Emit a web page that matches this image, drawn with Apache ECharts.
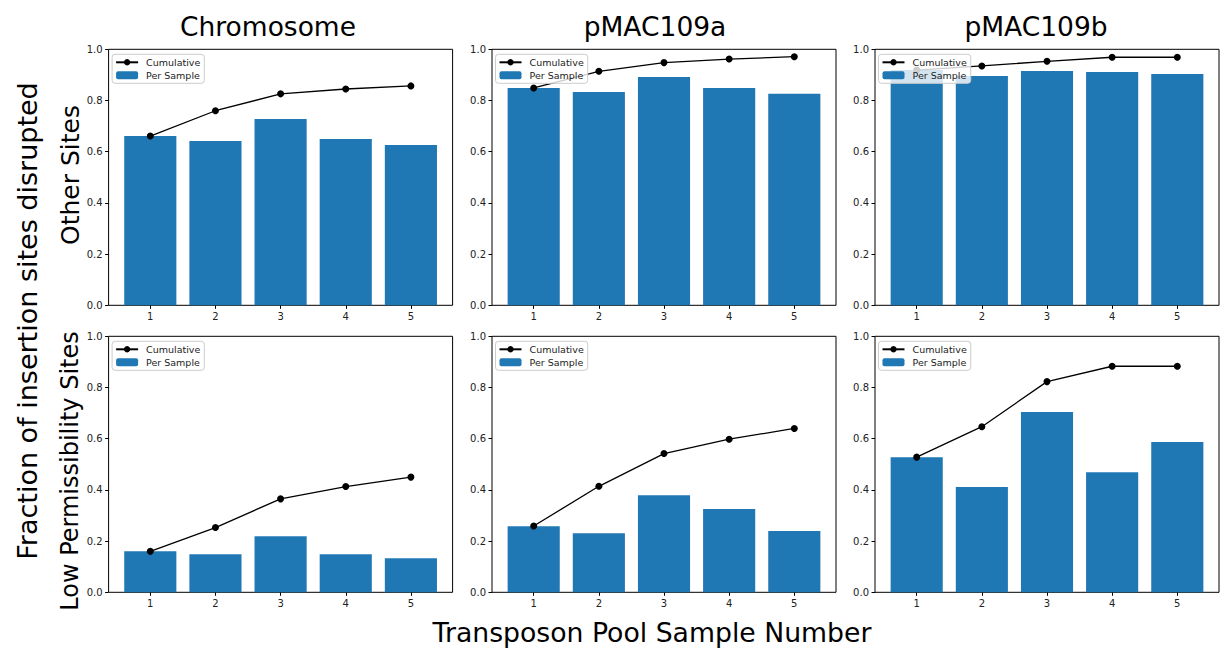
<!DOCTYPE html>
<html>
<head>
<meta charset="utf-8">
<script src="https://cdn.jsdelivr.net/npm/echarts@6/dist/echarts.min.js"></script>
<style>
  html, body { margin: 0; padding: 0; background: #fff; }
  #main { width: 1225px; height: 648px; }
</style>
</head>
<body>
<div id="main"></div>
<script>
// sample numbers on the x axis
const samples = [1, 2, 3, 4, 5];
const yTicks = [0, 0.2, 0.4, 0.6, 0.8, 1.0];

const colTitles = ['Chromosome', 'pMAC109a', 'pMAC109b'];
const rowTitles = ['Other Sites', 'Low Permissibility Sites'];

// Other Sites row
const chromOtherPer = [0.661, 0.642, 0.728, 0.650, 0.626];
const chromOtherCum = [0.661, 0.760, 0.826, 0.845, 0.857];
const pmacAOtherPer = [0.849, 0.833, 0.892, 0.849, 0.826];
const pmacAOtherCum = [0.849, 0.914, 0.948, 0.962, 0.971];
const pmacBOtherPer = [0.919, 0.896, 0.915, 0.911, 0.904];
const pmacBOtherCum = [0.919, 0.935, 0.953, 0.969, 0.969];

// Low Permissibility Sites row
const chromLowPer = [0.160, 0.149, 0.219, 0.149, 0.133];
const chromLowCum = [0.160, 0.253, 0.365, 0.413, 0.450];
const pmacALowPer = [0.258, 0.231, 0.379, 0.325, 0.239];
const pmacALowCum = [0.259, 0.414, 0.542, 0.598, 0.640];
const pmacBLowPer = [0.528, 0.411, 0.704, 0.469, 0.587];
const pmacBLowCum = [0.528, 0.647, 0.823, 0.883, 0.883];

const panels = [
  [chromOtherPer, chromOtherCum], [pmacAOtherPer, pmacAOtherCum], [pmacBOtherPer, pmacBOtherCum],
  [chromLowPer, chromLowCum], [pmacALowPer, pmacALowCum], [pmacBLowPer, pmacBLowCum]
];

const colLeft = [108.6, 492, 875];
const rowTop = [49.3, 336.3];
const W = 344, H = 256;
const xMin = 0.36, xMax = 5.64;
const barPx = 0.8 * W / (xMax - xMin);
const blue = '#1f77b4';

var myChart = echarts.init(document.getElementById('main'), null, { renderer: 'svg' });

var grids = [], xAxes = [], yAxes = [], series = [], legends = [];
panels.forEach(function (p, i) {
  const r = Math.floor(i / 3), c = i % 3;
  grids.push({
    left: colLeft[c], top: rowTop[r], width: W, height: H,
    show: true, borderColor: '#000', borderWidth: 1, backgroundColor: 'transparent'
  });
  xAxes.push({
    gridIndex: i, type: 'value', min: xMin, max: xMax,
    axisLine: { show: false },
    axisTick: { show: true, inside: false, length: 3.5, customValues: samples, lineStyle: { color: '#000', width: 1 } },
    axisLabel: { customValues: samples, margin: 6, fontSize: 10, color: '#222', fontFamily: 'DejaVu Sans' },
    splitLine: { show: false }
  });
  yAxes.push({
    gridIndex: i, type: 'value', min: 0, max: 1, interval: 0.2,
    axisLine: { show: false },
    axisTick: { show: true, inside: false, length: 3.5, lineStyle: { color: '#000', width: 1 } },
    axisLabel: {
      margin: 6, fontSize: 10, color: '#222', fontFamily: 'DejaVu Sans',
      formatter: function (v) { return v.toFixed(1); }
    },
    splitLine: { show: false }
  });
  series.push({
    name: 'Per Sample', type: 'bar', xAxisIndex: i, yAxisIndex: i,
    barWidth: barPx, itemStyle: { color: blue },
    data: samples.map(function (s, k) { return [s, p[0][k]]; })
  });
  series.push({
    name: 'Cumulative', type: 'line', xAxisIndex: i, yAxisIndex: i, z: 3,
    symbol: 'circle', symbolSize: 7, showSymbol: true,
    lineStyle: { color: '#000', width: 1.3 }, itemStyle: { color: '#000' },
    data: samples.map(function (s, k) { return [s, p[1][k]]; })
  });
  legends.push({
    left: colLeft[c] + 3.5, top: rowTop[r] + 5, orient: 'vertical',
    data: [{ name: 'Cumulative', lineStyle: { width: 2 } }, { name: 'Per Sample' }],
    itemWidth: 22, itemHeight: 8, itemGap: 3,
    padding: [3, 4, 3, 3],
    backgroundColor: 'rgba(255,255,255,0.8)', borderColor: '#cccccc', borderWidth: 1, borderRadius: 3,
    textStyle: { fontSize: 9.5, color: '#222', fontFamily: 'DejaVu Sans', padding: [0, 0, 0, 3] },
    selectedMode: false
  });
});

var texts = [];
const titleX = [268, 655, 1036];
colTitles.forEach(function (t, c) {
  texts.push({ type: 'text', x: titleX[c], y: 26,
    style: { text: t, font: '26.5px "DejaVu Sans"', fill: '#000', textAlign: 'center', textVerticalAlign: 'middle' } });
});
const rowLabelY = [175, 471];
const rowLabelSize = [25, 24];
rowTitles.forEach(function (t, r) {
  texts.push({ type: 'text', x: 70, y: rowLabelY[r], rotation: Math.PI / 2,
    style: { text: t, font: rowLabelSize[r] + 'px "DejaVu Sans"', fill: '#000', textAlign: 'center', textVerticalAlign: 'middle' } });
});
texts.push({ type: 'text', x: 27, y: 321, rotation: Math.PI / 2,
  style: { text: 'Fraction of insertion sites disrupted', font: '27px "DejaVu Sans"', fill: '#000', textAlign: 'center', textVerticalAlign: 'middle' } });
texts.push({ type: 'text', x: 652, y: 632,
  style: { text: 'Transposon Pool Sample Number', font: '26.7px "DejaVu Sans"', fill: '#000', textAlign: 'center', textVerticalAlign: 'middle' } });

var option = {
  animation: false,
  backgroundColor: '#fff',
  grid: grids,
  xAxis: xAxes,
  yAxis: yAxes,
  legend: legends,
  series: series,
  graphic: texts
};
option && myChart.setOption(option);
</script>
</body>
</html>
